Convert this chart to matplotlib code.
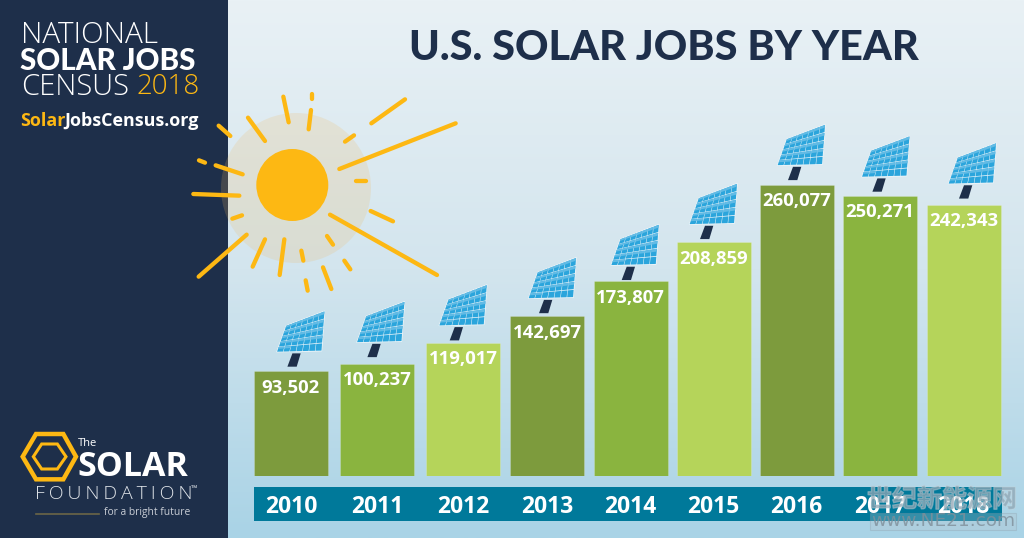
import matplotlib
matplotlib.use('Agg')
import matplotlib.pyplot as plt
import matplotlib.patheffects as pe
import numpy as np
from matplotlib.colors import LinearSegmentedColormap
from matplotlib.patches import Circle, Polygon, Rectangle
from matplotlib.transforms import IdentityTransform

years = ['2010', '2011', '2012', '2013', '2014', '2015', '2016', '2017', '2018']
jobs = [93502, 100237, 119017, 142697, 173807, 208859, 260077, 250271, 242343]
bar_colors = ['#7d9b3d', '#8ab43f', '#b5d45a'] * 3

NAVY = '#1e2f4a'
GOLD = '#fdb813'
TEAL = '#00799a'

W, H = 1024, 538
fig = plt.figure(figsize=(W / 100, H / 100), dpi=100)

# the bars are not quite evenly spaced in the picture
slots = [291, 377, 463, 547, 630.5, 713.5, 796.5, 880, 963.5]
BAR_W = 74
# where each panel's lower left corner sits, relative to the middle of the bar top
panel_dx = [-14.3, -20.3, -24, -18.7, -19.5, -24.2, -19.2, -18.3, -15.2]
panel_dy = [19.3, 21.3, 17, 17.7, 16, 17.7, 19.3, 18.7, 20.7]

# full figure axes in pixels, for the artwork
bg = fig.add_axes([0, 0, 1, 1])
bg.axis('off')

sky = LinearSegmentedColormap.from_list('sky', ['#e9f1f5', '#d3e5ee', '#a9d3e6'])
bg.imshow(np.linspace(0, 1, 256).reshape(-1, 1), extent=(0, W, H, 0), cmap=sky, aspect='auto', zorder=0)
bg.add_patch(Rectangle((0, 0), 228, H, color=NAVY, lw=0, zorder=1))
bg.set_xlim(0, W)
bg.set_ylim(H, 0)

# sun
bg.add_patch(Circle((296, 188), 75, color=(240 / 255, 184 / 255, 95 / 255), alpha=0.19, lw=0, zorder=2))
bg.add_patch(Circle((292.3, 185), 36, color=GOLD, lw=0, zorder=3))

rays = [
    (295, 35, 311, 112), (380, 28, 380, 42), (378, 75, 371, 133), (189, 98, 240, 168),
    (101, 122, 136, 153), (42, 226, 60, 233), (92, 241, 173, 268), (25, 327, 163, 332),
    (142, 401, 171, 391), (41, 575, 185, 449), (203, 545, 240, 463), (284, 570, 298, 463),
    (349, 497, 355, 527), (362, 586, 368, 617), (414, 547, 439, 612), (478, 527, 496, 553),
    (426, 453, 444, 479), (435, 389, 756, 570), (557, 378, 624, 409), (513, 287, 543, 287),
    (463, 252, 812, 115), (480, 170, 507, 151), (559, 115, 660, 43),
]
for x0, y0, x1, y1 in rays:
    bg.plot([185 + x0 / 3, 185 + x1 / 3], [85 + y0 / 3, 85 + y1 / 3], color=GOLD, lw=3.1,
            solid_capstyle='round', zorder=4)

# header
bg.text(21, 35, 'NATIONAL', family='Open Sans', weight='light', fontsize=21.3, color='white', va='center', zorder=5)
bg.text(20, 61, 'SOLAR JOBS', family='Lato', weight='black', fontsize=21.3, color='white', va='center', zorder=5)
bg.text(21, 87, 'CENSUS', family='Open Sans', weight='light', fontsize=21, color='white', va='center', zorder=5)
bg.text(136, 87, '2018', family='Open Sans', weight='light', fontsize=20, color=GOLD, va='center', zorder=5)
bg.text(20, 121, 'Solar', family='Open Sans', weight='bold', fontsize=12.85, color=GOLD, va='center', zorder=5)
bg.text(64, 121, 'JobsCensus.org', family='Open Sans', weight='bold', fontsize=12.85, color='white', va='center', zorder=5)

bg.text(664, 48, 'U.S. SOLAR JOBS BY YEAR', family='Lato', weight='black', fontsize=29.8, color=NAVY,
        ha='center', va='center', zorder=5)

# foundation logo
outer = np.array([(68, 110), (108, 42), (190, 42), (228, 110), (190, 178), (108, 178)]) / 3 + (0, 420)
inner = np.array([(100, 110), (125, 72), (172, 72), (198, 110), (172, 147), (125, 147)]) / 3 + (0, 420)
bg.add_patch(Polygon(outer, closed=True, fill=False, ec=GOLD, lw=3.2, zorder=5))
bg.add_patch(Polygon(inner, closed=True, fill=False, ec=GOLD, lw=2.2, zorder=5))
bg.text(78, 444, 'The', family='Open Sans', fontsize=8, color='white', va='center', zorder=5)
bg.text(77, 467, 'SOLAR', family='Open Sans', weight='bold', fontsize=24.5, color='white', va='center', zorder=5)
bg.text(35, 494, '\u2009'.join('FOUNDATION'), family='Open Sans', weight='light', fontsize=14, color='#dfe3e8',
        va='center', zorder=5)
bg.text(191, 489, '™', family='Open Sans', fontsize=6, color='#dfe3e8', va='center', zorder=5)
bg.plot([36, 99], [514, 514], color='#6b6647', lw=1.2, zorder=5)
bg.text(104, 513, 'for a bright future', family='Open Sans', fontsize=7.4, color='#c9ced6', va='center', zorder=5)

# year strip
bg.add_patch(Rectangle((254, 487), 748, 34, color=TEAL, lw=0, zorder=1.5))

# bars, baseline at y=476 px and 1.12 px per 1000 jobs
ax = fig.add_axes([0, (H - 476) / H, 1, 476 / H])
ax.patch.set_alpha(0)
ax.set_xlim(0, W)
ax.set_ylim(0, 476 / 0.00112)
ax.axis('off')
ax.bar(slots, jobs, width=BAR_W, color=bar_colors, edgecolor=(1, 1, 1, 0.25), linewidth=0.5)

for slot, year, val in zip(slots, years, jobs):
    ax.annotate(f'{val:,}', (slot, val), xytext=(0, -12), textcoords='offset points', ha='center', va='center',
                family='Open Sans', weight='bold', fontsize=13.3, color='white')
    ax.annotate(year, (slot, 0), xytext=(0, -22), textcoords='offset points', ha='center', va='center',
                family='Open Sans', weight='bold', fontsize=16.5, color='white', annotation_clip=False)


def draw_panel(x0, y0):
    # x0, y0 is the lower left corner of the panel in display pixels
    def pt(dx, dy):
        return np.array((x0 + dx, y0 + dy))

    stand = [pt(15.7, -1.4), pt(24, -1.4), pt(20, -14.7), pt(10.7, -14.7)]
    fig.add_artist(Polygon(stand, closed=True, color=NAVY, lw=0, transform=IdentityTransform()))
    bl, br, tr, tl = pt(0, 0), pt(45, 1), pt(48, 41), pt(9.4, 26.3)
    fig.add_artist(Polygon([bl, br, tr, tl], closed=True, fc='#e8f4fa', ec='#eef6fa', lw=0.6,
                           transform=IdentityTransform()))

    def at(u, v):
        return (1 - v) * ((1 - u) * bl + u * br) + v * ((1 - u) * tl + u * tr)

    cols, rows = 7, 5
    for c in range(cols):
        for r in range(rows):
            u0, u1 = (c + 0.04) / cols, (c + 0.96) / cols
            v0, v1 = (r + 0.05) / rows, (r + 0.95) / rows
            fig.add_artist(Polygon([at(u0, v0), at(u1, v0), at(u1, v1), at(u0, v1)], closed=True, color='#2ba5dc',
                                   lw=0, transform=IdentityTransform()))
            # softer streak over the upper part of most cells
            if r > 0 or c < 2:
                vm = (r + 0.6) / rows
                fig.add_artist(Polygon([at(u0, vm), at(u1, vm), at(u1, v1), at(u0, v1)], closed=True,
                                       color='#62bbe5', lw=0, transform=IdentityTransform()))


fig.canvas.draw()
for slot, val, dx, dy in zip(slots, jobs, panel_dx, panel_dy):
    px, py = ax.transData.transform((slot, val))
    draw_panel(px + dx, py + dy)

# watermark
wm = fig.add_axes([0, 0, 1, 1])
wm.set_xlim(0, W)
wm.set_ylim(H, 0)
wm.axis('off')
wm.patch.set_alpha(0)
wm.text(942, 500, '世纪新能源网', family=['Noto Sans CJK SC', 'DejaVu Sans'], weight='bold', fontsize=18,
        color='#8fa6b4', alpha=0.5, ha='center', va='center',
        path_effects=[pe.withStroke(linewidth=1, foreground='#c5d3da', alpha=0.5)])
wm.add_patch(Rectangle((870, 513), 146, 17, fc='#b4c4cd', ec='#8a9aa5', alpha=0.3, lw=0.8))
wm.text(943, 521.5, 'www.NE21.com', family='DejaVu Sans', fontsize=13.3, color='#7f8f9a', alpha=0.8,
        ha='center', va='center')

fig.savefig('out.png', dpi=100)
